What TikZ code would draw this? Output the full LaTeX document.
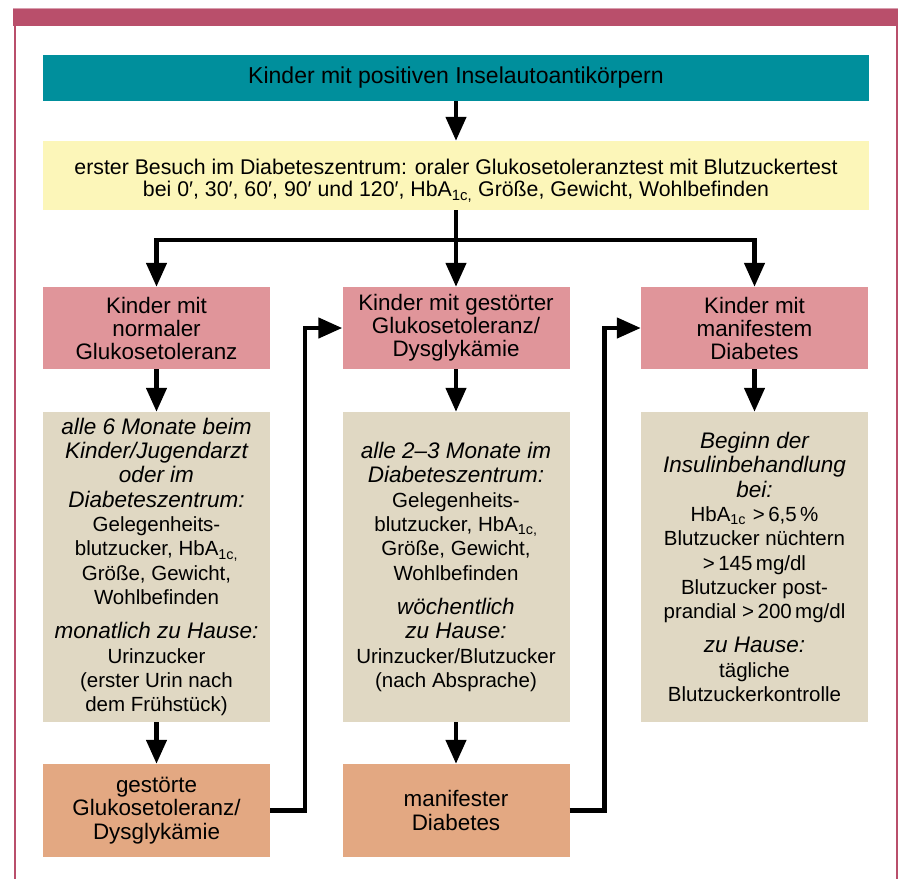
\documentclass[tikz,border=0pt]{standalone}
\usepackage{fontspec}
\setmainfont{Liberation Sans}
\usetikzlibrary{arrows.meta}

\definecolor{rahmen}{RGB}{185,79,107}
\definecolor{petrol}{RGB}{0,143,156}
\definecolor{gelb}{RGB}{252,246,185}
\definecolor{rosa}{RGB}{224,149,154}
\definecolor{sand}{RGB}{224,216,195}
\definecolor{apricot}{RGB}{227,168,130}

\newcommand{\kopf}[1]{{\fontsize{22.5}{24.3}\selectfont\itshape #1}}

\begin{document}
\begin{tikzpicture}[x=1pt, y=-1pt,
        box/.style={inner sep=0pt, align=center, minimum width=227},
        group/.style={box, fill=rosa, minimum height=82, font=\fontsize{22.4}{23}\selectfont},
        plan/.style={box, fill=sand, minimum height=310, font=\fontsize{20.5}{24.3}\selectfont},
        result/.style={box, fill=apricot, minimum height=93, font=\fontsize{22.4}{23.5}\selectfont},
        arrow/.style={line width=4.5, -{Triangle[length=24pt, width=20pt]}}]
        \useasboundingbox (0,0) rectangle (898,879);

        % Rahmen
        \fill[rahmen] (13,8) rectangle (898,26);
        \draw[rahmen!55, line width=1] (13,8.5) -- (898,8.5);
        \draw[rahmen, line width=2] (15,26) -- (15,879);
        \draw[rahmen, line width=2] (896.5,26) -- (896.5,879);

        \node[box, fill=gelb, minimum width=826, minimum height=69, text height=48pt,
            font=\fontsize{21.3}{22.5}\selectfont] (ogtt) at (456,175.5)
            {erster Besuch im Diabeteszentrum: oraler Glukosetoleranztest mit Blutzuckertest\\
             bei 0′, 30′, 60′, 90′ und 120′, HbA\textsubscript{1c,} Größe, Gewicht, Wohlbefinden};
        \node[box, fill=petrol, minimum width=826, minimum height=46,
            font=\fontsize{23}{25}\selectfont] (start) at (456,78)
            {Kinder mit positiven Inselautoantikörpern};

        \node[group] (normal) at (156.5,328) {Kinder mit\\normaler\\Glukosetoleranz};
        \node[group] (gestoert) at (456,328) {Kinder mit gestörter\\Glukosetoleranz/\\Dysglykämie};
        \node[group] (manifest) at (754.5,328) {Kinder mit\\manifestem\\Diabetes};

        \node[plan] (planA) at (156.5,567) {\kopf{alle 6 Monate beim}\\\kopf{Kinder/Jugendarzt}\\
            \kopf{oder im}\\\kopf{Diabeteszentrum:}\\Gelegenheits-\\blutzucker, HbA\textsubscript{1c,}\\
            Größe, Gewicht,\\Wohlbefinden\\[10pt]\kopf{monatlich zu Hause:}\\Urinzucker\\
            (erster Urin nach\\dem Frühstück)};
        \node[plan] (planB) at (456,567) {\kopf{alle 2–3 Monate im}\\\kopf{Diabeteszentrum:}\\
            Gelegenheits-\\blutzucker, HbA\textsubscript{1c,}\\Größe, Gewicht,\\Wohlbefinden\\[10pt]
            \kopf{wöchentlich}\\\kopf{zu Hause:}\\Urinzucker/Blutzucker\\(nach Absprache)};
        \node[plan] (planC) at (754.5,567) {\kopf{Beginn der}\\\kopf{Insulinbehandlung}\\\kopf{bei:}\\
            HbA\textsubscript{1c}\,\,{>}\,6,5\,\%\\Blutzucker nüchtern\\{>}\,145\,mg/dl\\
            Blutzucker post-\\prandial {>}\,200\,mg/dl\\[10pt]\kopf{zu Hause:}\\tägliche\\
            Blutzuckerkontrolle};

        \node[result] (resA) at (156.5,810.5) {gestörte\\Glukosetoleranz/\\Dysglykämie};
        \node[result] (resB) at (456,810.5) {manifester\\Diabetes};

        % Pfeile
        \coordinate (split) at (456,240);
        \draw[arrow] (start.south) -- (ogtt.north);
        \draw[arrow] (ogtt.south) -- (gestoert.north);
        \draw[arrow] (split) -| (normal.north);
        \draw[arrow] (split) -| (manifest.north);
        \draw[arrow] (normal) -- (planA);
        \draw[arrow] (gestoert) -- (planB);
        \draw[arrow] (manifest) -- (planC);
        \draw[arrow] (planA) -- (resA);
        \draw[arrow] (planB) -- (resB);
        \draw[arrow] (resA.east) -- ++(35,0) |- (gestoert.west);
        \draw[arrow] (resB.east) -- ++(35,0) |- (manifest.west);
    \end{tikzpicture}
\end{document}
